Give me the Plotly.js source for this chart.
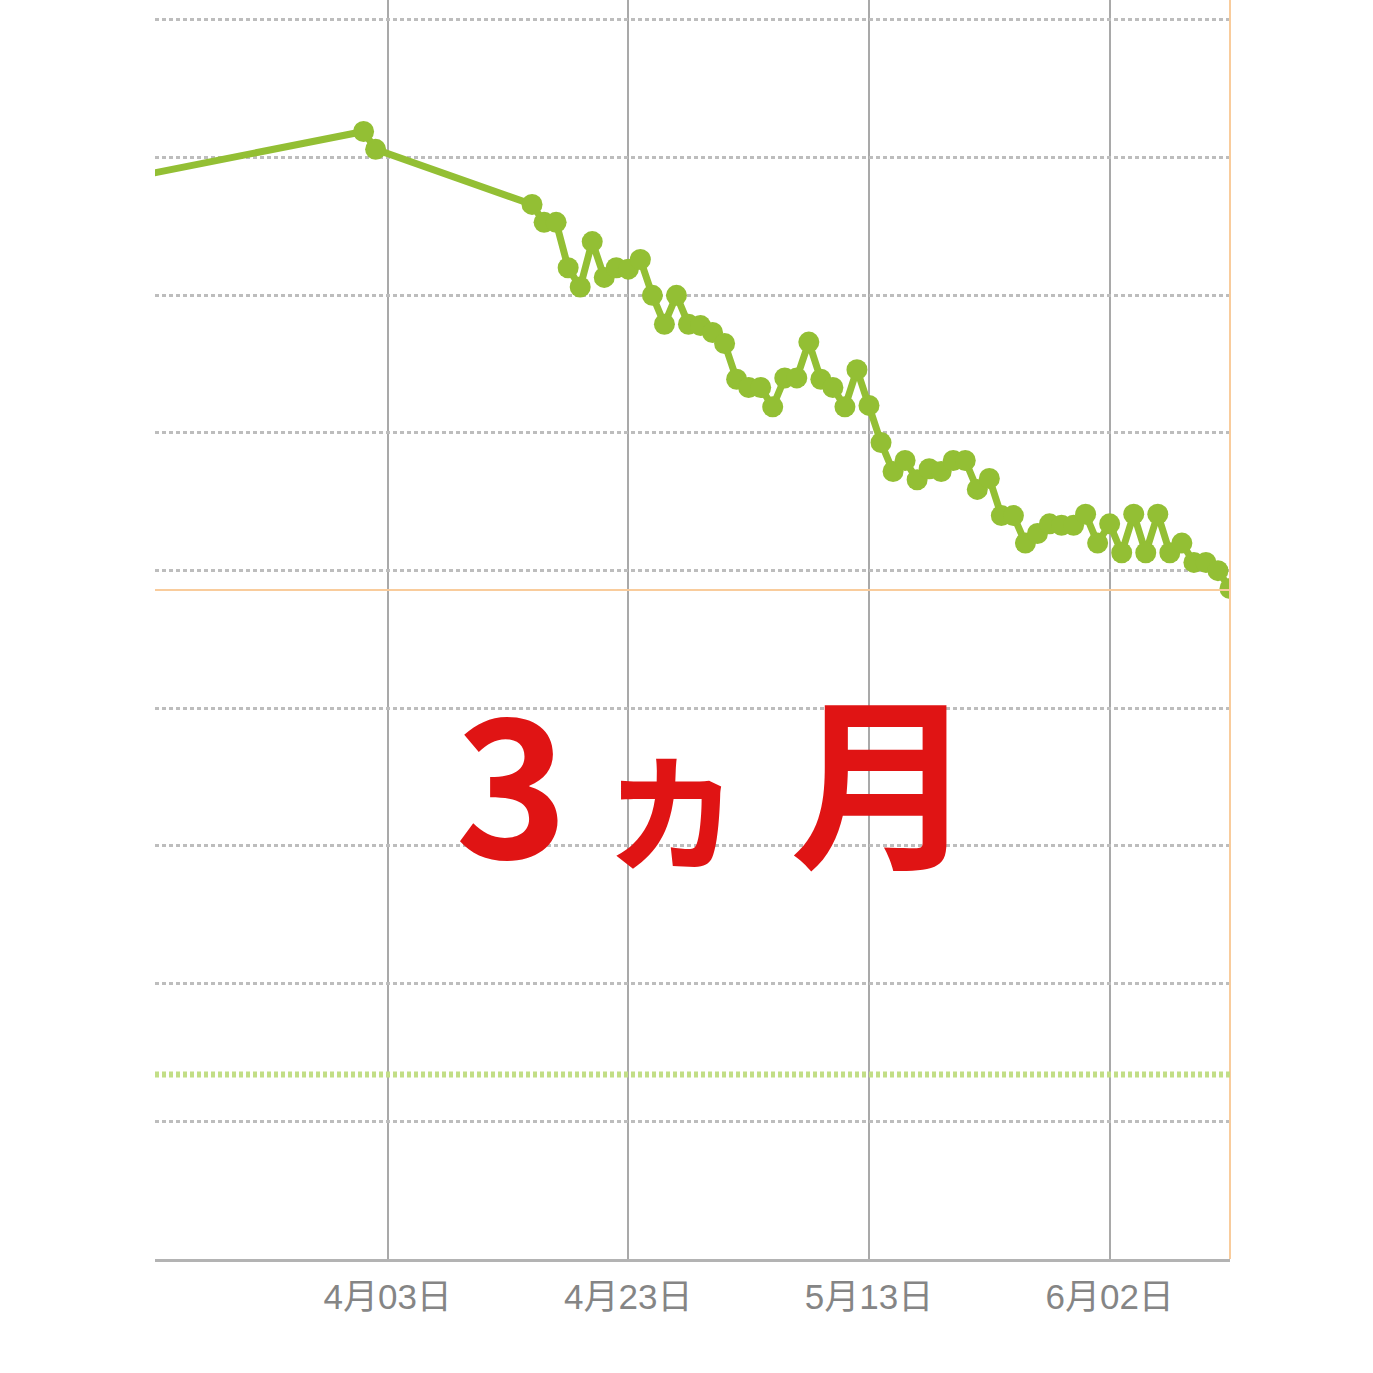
<!DOCTYPE html>
<html>
<head>
<meta charset="utf-8">
<script src="https://cdn.plot.ly/plotly-3.0.1.min.js"></script>
<style>
  html, body { margin: 0; padding: 0; background: #ffffff; }
  #chart { width: 1373px; height: 1373px; }
</style>
</head>
<body>
<div id="chart"></div>
<script>
// Daily weigh-ins (first point lies left of the visible range)
const dates = [
    '2019-03-10', '2019-04-01', '2019-04-02',
    '2019-04-15', '2019-04-16', '2019-04-17', '2019-04-18', '2019-04-19', '2019-04-20',
    '2019-04-21', '2019-04-22', '2019-04-23', '2019-04-24', '2019-04-25', '2019-04-26',
    '2019-04-27', '2019-04-28', '2019-04-29', '2019-04-30', '2019-05-01', '2019-05-02',
    '2019-05-03', '2019-05-04', '2019-05-05', '2019-05-06', '2019-05-07', '2019-05-08',
    '2019-05-09', '2019-05-10', '2019-05-11', '2019-05-12', '2019-05-13', '2019-05-14',
    '2019-05-15', '2019-05-16', '2019-05-17', '2019-05-18', '2019-05-19', '2019-05-20',
    '2019-05-21', '2019-05-22', '2019-05-23', '2019-05-24', '2019-05-25', '2019-05-26',
    '2019-05-27', '2019-05-28', '2019-05-29', '2019-05-30', '2019-05-31', '2019-06-01',
    '2019-06-02', '2019-06-03', '2019-06-04', '2019-06-05', '2019-06-06', '2019-06-07',
    '2019-06-08', '2019-06-09', '2019-06-10', '2019-06-11', '2019-06-12'
];
const weights = [
    67.81, 68.19, 68.06,
    67.66, 67.53, 67.53, 67.20, 67.06, 67.39,
    67.13, 67.20, 67.19, 67.26, 67.00, 66.79,
    67.00, 66.79, 66.78, 66.73, 66.65, 66.39,
    66.33, 66.33, 66.19, 66.40, 66.40, 66.66,
    66.39, 66.33, 66.19, 66.46, 66.20, 65.93,
    65.72, 65.80, 65.66, 65.74, 65.72, 65.80,
    65.80, 65.59, 65.67, 65.40, 65.40, 65.20,
    65.27, 65.34, 65.33, 65.33, 65.41, 65.20,
    65.34, 65.13, 65.41, 65.13, 65.41, 65.13,
    65.20, 65.06, 65.06, 65.00, 64.87
];

const targetWeight = 64.86;   // orange line
const goalWeight = 61.34;     // green dotted line
const xRange = ['2019-03-14 16:00', '2019-06-12'];
const yRange = [60, 69.145];
// overlay caption "3ヵ月", one character per annotation to keep the wide spacing
const overlayChars = ['3', 'ヵ', '月'];

const colors = {
    green: '#93bf34',
    greenLight: '#c2de86',
    orange: '#f9cc9c',
    grid: '#bdbdbd',
    vgrid: '#a9a9a9',
    tick: '#858585',
    red: '#e01414'
};

const trace = {
    x: dates,
    y: weights,
    type: 'scatter',
    mode: 'lines+markers',
    line: { color: colors.green, width: 7 },
    marker: { color: colors.green, size: 21 },
    hoverinfo: 'skip'
};

const captionFont = size => ({
    family: 'Noto Sans CJK JP, sans-serif',
    size: size,
    weight: 'bold',
    color: colors.red
});

const captionPos = [
    { x: 0.332, y: 0.385, size: 192 },
    { x: 0.481, y: 0.374, size: 155 },
    { x: 0.677, y: 0.385, size: 186 }
];

const annotations = overlayChars.map((ch, i) => ({
    text: ch,
    xref: 'paper', yref: 'paper',
    x: captionPos[i].x, y: captionPos[i].y,
    xanchor: 'center', yanchor: 'middle',
    showarrow: false,
    font: captionFont(captionPos[i].size)
}));

const layout = {
    width: 1373,
    height: 1373,
    margin: { t: 0, b: 114, l: 155, r: 143 },
    paper_bgcolor: '#ffffff',
    plot_bgcolor: '#ffffff',
    showlegend: false,
    xaxis: {
        type: 'date',
        range: xRange,
        tick0: '2019-04-03',
        dtick: 20 * 86400000,
        tickformat: '%-m月%d日',
        showgrid: true,
        gridcolor: colors.vgrid,
        gridwidth: 2,
        zeroline: false,
        showline: true,
        linecolor: '#b3b3b3',
        linewidth: 3,
        ticks: '',
        ticklabelstandoff: 5,
        tickfont: {
            family: 'Liberation Sans, Noto Sans CJK JP, sans-serif',
            size: 35,
            color: colors.tick
        },
        fixedrange: true
    },
    yaxis: {
        range: yRange,
        dtick: 1,
        tick0: 60,
        showgrid: true,
        gridcolor: colors.grid,
        gridwidth: 3,
        griddash: '4px,3px',
        showticklabels: false,
        zeroline: false,
        showline: false,
        ticks: '',
        fixedrange: true
    },
    shapes: [
        {
            type: 'line', xref: 'paper', x0: 0, x1: 1,
            yref: 'y', y0: targetWeight, y1: targetWeight,
            line: { color: colors.orange, width: 2 }
        },
        {
            type: 'line', xref: 'paper', x0: 1, x1: 1,
            yref: 'paper', y0: 0, y1: 1,
            line: { color: colors.orange, width: 2 }
        },
        {
            type: 'line', xref: 'paper', x0: 0, x1: 1,
            yref: 'y', y0: goalWeight, y1: goalWeight,
            line: { color: colors.greenLight, width: 6, dash: '4px,3px' }
        }
    ],
    annotations: annotations
};

Plotly.newPlot('chart', [trace], layout, { displayModeBar: false, staticPlot: true });
</script>
</body>
</html>
